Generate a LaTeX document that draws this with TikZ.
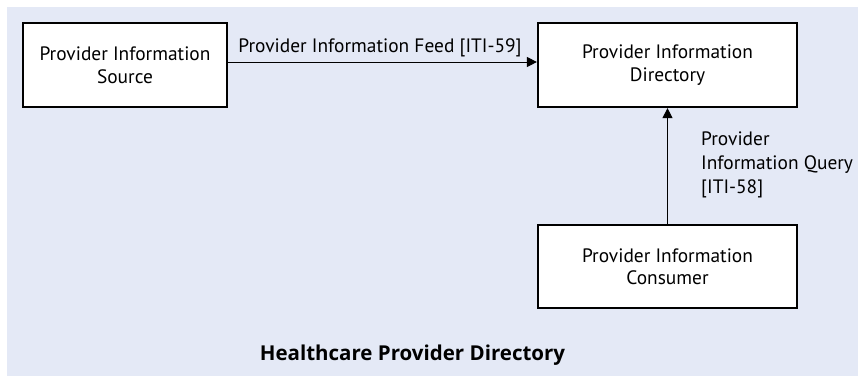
\documentclass[tikz,border=0pt]{standalone}
\usepackage{fontspec}
\setmainfont{PT Sans}
\newfontfamily\headfont{Open Sans}
\usetikzlibrary{arrows.meta}
\definecolor{panel}{RGB}{228,233,246}
\tikzset{
  actor/.style={draw=black, line width=2.2pt, fill=white, align=center,
    inner sep=0pt, font=\fontsize{19.4}{22.5}\selectfont},
  flow/.style={line width=1pt, -{Triangle[length=10pt,width=10pt]}},
  caption/.style={inner sep=0pt, font=\fontsize{19.4}{24}\selectfont}
}
\begin{document}
\begin{tikzpicture}[x=1pt,y=-1pt]
  % page and panel
  \useasboundingbox (0,0) rectangle (858,376);
  \fill[white] (0,0) rectangle (858,376);
  \fill[panel] (7,7) rectangle (858,376);

  % actors
  \node[actor, minimum width=204pt, minimum height=84pt] (src) at (125,65)
    {Provider Information\\Source};
  \node[actor, minimum width=259pt, minimum height=84pt] (dir) at (667.5,65)
    {Provider Information\\Directory};
  \node[actor, minimum width=259pt, minimum height=83pt] (cons) at (667.5,266.5)
    {Provider Information\\Consumer};

  % transactions
  \draw[flow] ([yshift=3pt]src.east) -- ([yshift=3pt]dir.west);
  \draw[flow] (cons.north) -- (dir.south);

  \node[caption, anchor=base] (feed) at (380,52) {Provider Information Feed [ITI-59]};
  \node[caption, anchor=north west, align=left] (query) at (701,132)
    {Provider\\Information Query\\{}[ITI-58]};

  % title
  \node[inner sep=0pt, anchor=base, font=\fontsize{20.5}{22}\headfont\bfseries] (title)
    at (412.5,360) {Healthcare Provider Directory};
\end{tikzpicture}
\end{document}
